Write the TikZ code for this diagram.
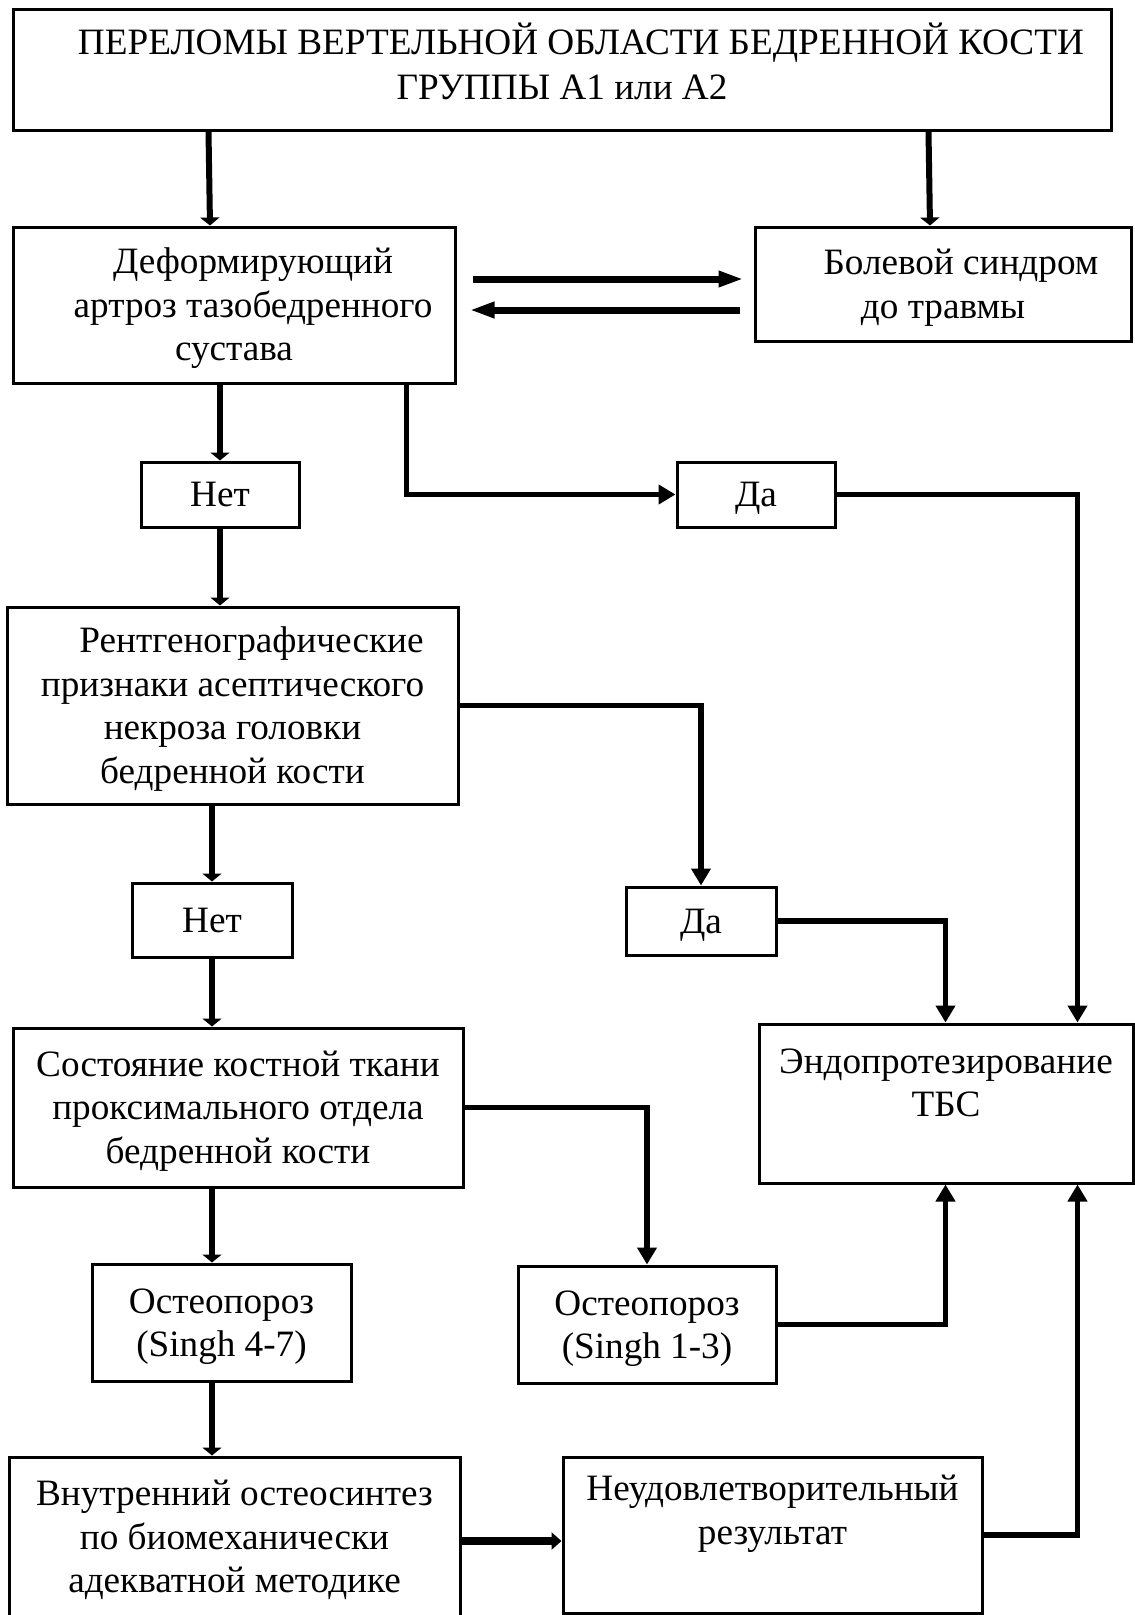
\documentclass[tikz,border=0pt]{standalone}
\usepackage{fontspec}
\setmainfont{Liberation Serif}
\usetikzlibrary{arrows.meta}
\newcommand{\fsz}{\fontsize{37.2}{43.5}\selectfont}
\newcommand{\st}{\rule[-9.3pt]{0pt}{43.5pt}}
\begin{document}
\begin{tikzpicture}[x=1pt,y=-1pt,
  box/.style={draw, line width=3pt, rectangle, inner sep=0pt, align=center, font=\fsz},
  txt/.style={align=center, inner sep=0pt, font=\fsz},
  vconn/.style={line width=6pt, -{Triangle[length=8pt,width=19pt]}},
  conn/.style={line width=5.5pt, line join=miter, -{Triangle[length=17pt,width=19pt]}},
  dbl/.style={line width=7pt, -{Triangle[length=25pt,width=15pt]}},
  fat/.style={line width=8pt, -{Triangle[length=10pt,width=17pt]}}]
\useasboundingbox (0,0) rectangle (1135,1615);
\fill[white] (0,0) rectangle (1135,1615);

% boxes
\node[box, minimum width=1098pt, minimum height=121pt] (top) at (562,69.5) {};
\node[txt] (topT) at (562,64.5) {\hspace*{38pt}\st ПЕРЕЛОМЫ ВЕРТЕЛЬНОЙ ОБЛАСТИ БЕДРЕННОЙ КОСТИ\\[1pt]\st ГРУППЫ А1 или А2};

\node[box, minimum width=442pt, minimum height=156pt] (deform) at (234,305)
  {\hspace*{38pt}\st Деформирующий\\\hspace*{38pt}\st артроз тазобедренного\\\st сустава};
\node[box, minimum width=376pt, minimum height=114pt] (bol) at (943,284)
  {\hspace*{36pt}\st Болевой синдром\\\st до травмы};

\node[box, minimum width=158pt, minimum height=65pt] (net) at (220,494.5) {\st Нет};
\node[box, minimum width=158pt, minimum height=65pt] (da) at (756,494.5) {\st Да};

\node[box, minimum width=451pt, minimum height=197pt] (rent) at (232.5,705.5)
  {\hspace*{38pt}\st Рентгенографические\\\st признаки асептического\\\st некроза головки\\\st бедренной кости};

\node[box, minimum width=160pt, minimum height=74pt] (net2) at (212,920) {\st Нет};
\node[box, minimum width=150pt, minimum height=68pt] (da2) at (701,921) {\st Да};

\node[box, minimum width=450pt, minimum height=159pt] (sost) at (238,1107.5)
  {\st Состояние костной ткани\\\st проксимального отдела\\\st бедренной кости};
\node[box, minimum width=374pt, minimum height=159pt] (endo) at (946,1103.5) {};
\node[txt] (endoT) at (946,1082.5) {\st Эндопротезирование\\\st ТБС};

\node[box, minimum width=259pt, minimum height=117pt] (ost47) at (221.5,1322.5)
  {\st Остеопороз\\\st (Singh 4-7)};
\node[box, minimum width=258pt, minimum height=117pt] (ost13) at (647,1324.5)
  {\st Остеопороз\\\st (Singh 1-3)};

\node[box, minimum width=451pt, minimum height=168pt] (vnutr) at (234.5,1541) {};
\node[txt] (vnutrT) at (234.5,1537)
  {\st Внутренний остеосинтез\\\st по биомеханически\\\st адекватной методике};
\node[box, minimum width=419pt, minimum height=156pt] (neud) at (772.5,1535) {};
\node[txt] (neudT) at (772.5,1510) {\st Неудовлетворительный\\\st результат};

% connectors
\draw[vconn] ([xshift=197pt]top.south west) -- ([xshift=-24pt]deform.north);
\draw[vconn] ([xshift=917pt]top.south west) -- ([xshift=-13pt]bol.north);

\draw[dbl, shorten <=16pt, shorten >=10pt] ([yshift=26pt]deform.east) -- ([yshift=5pt]bol.west);
\draw[dbl, shorten <=14pt, shorten >=13pt] ([yshift=-26pt]bol.west) -- ([yshift=-5pt]deform.east);

\draw[vconn] ([xshift=-14pt]deform.south) -- (net.north);
\draw[conn] ([xshift=-50pt]deform.south east) |- (da.west);
\draw[conn] (da.east) -| ([xshift=-57pt]endo.north east);

\draw[vconn] (net.south) -- ([xshift=-12.5pt]rent.north);
\draw[conn] (rent.east) -| (da2.north);
\draw[vconn] ([xshift=-20.5pt]rent.south) -- (net2.north);
\draw[conn] (da2.east) -| ([xshift=188pt]endo.north west);

\draw[vconn] (net2.south) -- ([xshift=-26pt]sost.north);
\draw[conn] (sost.east) -| (ost13.north);
\draw[vconn] ([xshift=-26pt]sost.south) -- ([xshift=-9.5pt]ost47.north);
\draw[conn] (ost13.east) -| ([xshift=188pt]endo.south west);

\draw[vconn] ([xshift=-9.5pt]ost47.south) -- ([xshift=-22.5pt]vnutr.north);
\draw[fat] (vnutr.east) -- (neud.west |- vnutr.east);
\draw[conn] (neud.east) -| ([xshift=-57pt]endo.south east);
\end{tikzpicture}
\end{document}
